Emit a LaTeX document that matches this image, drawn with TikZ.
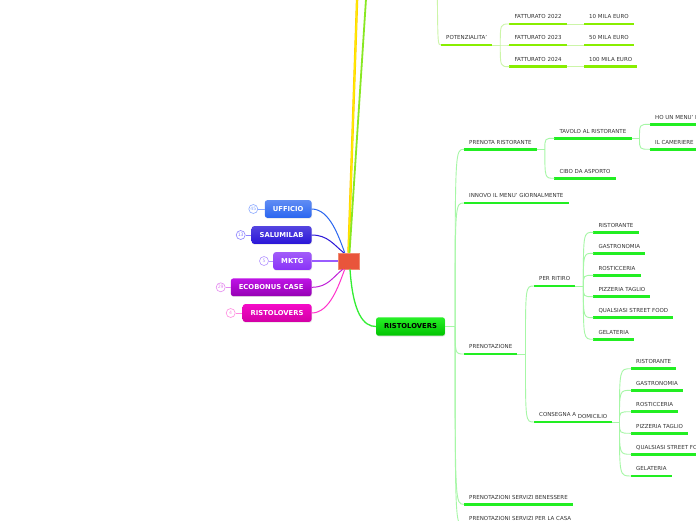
\documentclass[tikz,border=0pt]{standalone}
\usepackage{fontspec}
\setmainfont{DejaVu Sans}
\usetikzlibrary{calc,shadows}
\definecolor{txt}{HTML}{333333}
\definecolor{ulG}{HTML}{22EE22}
\definecolor{cnG}{HTML}{A6F7A6}
\definecolor{ulY}{HTML}{88EE00}
\definecolor{cnY}{HTML}{CCF5A8}
\definecolor{rootc}{HTML}{E9553B}
\definecolor{rootb}{HTML}{F08A70}
\definecolor{cUf}{HTML}{2A66F0}
\definecolor{cSa}{HTML}{2A16D8}
\definecolor{cMk}{HTML}{8A33F8}
\definecolor{cMl}{HTML}{9A5CFF}
\definecolor{cEc}{HTML}{C020D8}
\definecolor{cRi}{HTML}{FF33CC}
\definecolor{bUf}{HTML}{8AA8FF}
\definecolor{bSa}{HTML}{8A80FF}
\definecolor{bMk}{HTML}{B495FF}
\definecolor{bEc}{HTML}{E58AF0}
\definecolor{bRi}{HTML}{FF8AE0}
\newcommand\leafnode[5]{\node[leaf] (#1) at (#2,#3) {#4}; \draw[#5] (#1.south west) -- (#1.south east);}
\tikzset{
  leaf/.style={anchor=south west, inner xsep=5pt, inner ysep=5pt, text depth=0pt,
    font=\fontsize{5.5}{6}\selectfont, text=txt},
  ulg/.style={ulG, line width=2.6pt},
  uly/.style={ulY, line width=2.6pt},
  cng/.style={cnG, line width=0.9pt},
  cny/.style={cnY, line width=0.9pt},
  topic/.style={rounded corners=2.5pt, minimum height=17.7pt, inner xsep=8pt, inner ysep=0pt,
    font=\bfseries\fontsize{6.8}{8}\selectfont, text=white, anchor=east,
    drop shadow={opacity=0.22, shadow xshift=0.5pt, shadow yshift=-0.8pt}},
  badge/.style={circle, minimum size=9pt, inner sep=0pt, fill=white, line width=0.6pt,
    font=\fontsize{4.6}{5}\selectfont},
}
\begin{document}
\begin{tikzpicture}[x=1pt,y=-1pt]
\useasboundingbox (0,0) rectangle (696,520);
\fill[white] (0,0) rectangle (696,520);
\clip (0,0) rectangle (696,520);

% root
\node[fill=rootc, draw=rootb, line width=0.5pt, minimum width=21pt, minimum height=16pt, inner sep=0pt,
  drop shadow={opacity=0.2, shadow xshift=0.5pt, shadow yshift=-0.6pt}] (root) at (348.5,261) {};

% top lines
\coordinate (topY) at (357.2,-4);
\coordinate (topG) at (366.2,-4);
\draw[line width=2.4pt, color={rgb,255:red,255;green,200;blue,0}] ($(root.north)+(0,0)$) -- (topY);
\draw[line width=1.4pt, color={rgb,255:red,255;green,236;blue,0}] ($(root.north)+(0,0)$) -- (topY);
\draw[line width=1.8pt, color={rgb,255:red,136;green,232;blue,34}] ($(root.north)+(1,0)$) -- (topG);

% left topics
\node[topic, top color=cUf!75!white, bottom color=cUf] (U) at (311.7,209) {UFFICIO};
\node[topic, top color=cSa!80!white, bottom color=cSa] (S) at (311.7,235) {SALUMILAB};
\node[topic, top color=cMk!80!white, bottom color=cMk] (M) at (311.7,261) {MKTG};
\node[topic, top color={rgb,255:red,190;green,20;blue,230}, bottom color={rgb,255:red,150;green,0;blue,180}] (E) at (311.7,287.3) {ECOBONUS CASE};
\node[topic, top color={rgb,255:red,245;green,10;blue,200}, bottom color={rgb,255:red,210;green,0;blue,165}] (R) at (311.7,313) {RISTOLOVERS};

\node[badge, draw=bUf, text=bUf] (bU) at (253.3,209) {45};
\node[badge, draw=bSa, text=bSa] (bS) at (240.7,235) {13};
\node[badge, draw=bMk, text=bMk] (bM) at (264,261) {5};
\node[badge, draw=bEc, text=bEc] (bE) at (220.7,287.3) {29};
\node[badge, draw=bRi, text=bRi] (bR) at (230.7,313) {4};
\draw[bUf, line width=0.6pt] (bU.east) -- (U.west);
\draw[bSa, line width=0.6pt] (bS.east) -- (S.west);
\draw[bMk, line width=0.6pt] (bM.east) -- (M.west);
\draw[bEc, line width=0.6pt] (bE.east) -- (E.west);
\draw[bRi, line width=0.6pt] (bR.east) -- (R.west);

\draw[cUf, line width=1pt] (U.east) .. controls +(18,0) and +(-6,-16) .. ($(root.north west)+(7,0)$);
\draw[cSa, line width=1pt] (S.east) .. controls +(16,0) and +(-10,-8) .. ($(root.north west)+(6,0)$);
\draw[cMl, line width=1.3pt] (M.east) -- (root.west);
\draw[cEc, line width=1pt] (E.east) .. controls +(16,0) and +(-10,8) .. ($(root.south west)+(5,0)$);
\draw[cRi, line width=1pt] (R.east) .. controls +(18,0) and +(-6,16) .. ($(root.south west)+(7,0)$);

% main green topic
\node[topic, anchor=center, text=black, minimum height=18.4pt, top color={rgb,255:red,40;green,240;blue,40}, bottom color={rgb,255:red,0;green,195;blue,0}] (RL) at (410.5,326.5) {RISTOLOVERS};
\draw[line width=1.3pt, color={rgb,255:red,51;green,238;blue,51}] ($(root.south)+(1.5,0)$) .. controls +(3,45) and +(-12,0) .. (RL.west);

% POTENZIALITA' subtree
\leafnode{P}{441}{45}{POTENZIALITA'}{uly}
\leafnode{F22}{509.3}{24}{FATTURATO 2022}{uly}
\leafnode{F23}{509.3}{45}{FATTURATO 2023}{uly}
\leafnode{F24}{509.3}{66.7}{FATTURATO 2024}{uly}
\leafnode{V10}{584}{24}{10 MILA EURO}{uly}
\leafnode{V50}{584}{45}{50 MILA EURO}{uly}
\leafnode{V100}{584}{66.7}{100 MILA EURO}{uly}
\coordinate (ptop) at (437.3,-10);
\draw[cny] (ptop) .. controls (437.8,45) .. (P.south west);
\draw[cny] (P.south east) -- ++(8,0) coordinate (bP);
\foreach \c in {F22,F23,F24}{\draw[cny] (bP) .. controls (bP |- \c.south west) .. (\c.south west);}
\draw[cny] (F22.south east) -- (V10.south west);
\draw[cny] (F23.south east) -- (V50.south west);
\draw[cny] (F24.south east) -- (V100.south west);

% RISTOLOVERS subtree
\leafnode{PR}{464}{149.3}{PRENOTA RISTORANTE}{ulg}
\leafnode{IN}{464}{203}{INNOVO IL MENU' GIORNALMENTE}{ulg}
\leafnode{PZ}{464}{354}{PRENOTAZIONE}{ulg}
\leafnode{SB}{464}{504.3}{PRENOTAZIONI SERVIZI BENESSERE}{ulg}
\leafnode{SC}{464}{525.5}{PRENOTAZIONI SERVIZI PER LA CASA}{ulg}
\draw[cng] (RL.east) -- ++(10,0) coordinate (bRL);
\foreach \c in {PR,IN,PZ,SB,SC}{\draw[cng] (bRL) .. controls (bRL |- \c.south west) .. (\c.south west);}

\leafnode{TA}{554.3}{138.3}{TAVOLO AL RISTORANTE}{ulg}
\leafnode{CI}{554.3}{178.3}{CIBO DA ASPORTO}{ulg}
\draw[cng] (PR.south east) -- ++(8,0) coordinate (bPR);
\foreach \c in {TA,CI}{\draw[cng] (bPR) .. controls (bPR |- \c.south west) .. (\c.south west);}

\leafnode{HO}{650}{124.3}{HO UN MENU' D}{ulg}
\leafnode{CA}{650}{149.3}{IL CAMERIERE}{ulg}
\draw[cng] (TA.south east) -- ++(8,0) coordinate (bTA);
\foreach \c in {HO,CA}{\draw[cng] (bTA) .. controls (bTA |- \c.south west) .. (\c.south west);}

\leafnode{RT}{534}{286}{PER RITIRO}{ulg}
\leafnode{CD}{534}{422}{CONSEGNA A \raisebox{-1.3pt}{DOMICILIO}}{ulg}
\draw[cng] (PZ.south east) -- ++(8,0) coordinate (bPZ);
\foreach \c in {RT,CD}{\draw[cng] (bPZ) .. controls (bPZ |- \c.south west) .. (\c.south west);}

\leafnode{r1}{593.3}{232.3}{RISTORANTE}{ulg}
\leafnode{r2}{593.3}{253.3}{GASTRONOMIA}{ulg}
\leafnode{r3}{593.3}{275.3}{ROSTICCERIA}{ulg}
\leafnode{r4}{593.3}{296.7}{PIZZERIA TAGLIO}{ulg}
\leafnode{r5}{593.3}{317.7}{QUALSIASI STREET FOOD}{ulg}
\leafnode{r6}{593.3}{339.3}{GELATERIA}{ulg}
\draw[cng] (RT.south east) -- ++(8,0) coordinate (bRT);
\foreach \c in {r1,r2,r3,r4,r5,r6}{\draw[cng] (bRT) .. controls (bRT |- \c.south west) .. (\c.south west);}

\leafnode{d1}{631}{368.7}{RISTORANTE}{ulg}
\leafnode{d2}{631}{390.3}{GASTRONOMIA}{ulg}
\leafnode{d3}{631}{411.7}{ROSTICCERIA}{ulg}
\leafnode{d4}{631}{433.3}{PIZZERIA TAGLIO}{ulg}
\leafnode{d5}{631}{454.3}{QUALSIASI STREET FOOD}{ulg}
\leafnode{d6}{631}{476}{GELATERIA}{ulg}
\draw[cng] (CD.south east) -- ++(7,0) coordinate (bCD);
\foreach \c in {d1,d2,d3,d4,d5,d6}{\draw[cng] (bCD) .. controls (bCD |- \c.south west) .. (\c.south west);}
\end{tikzpicture}
\end{document}
